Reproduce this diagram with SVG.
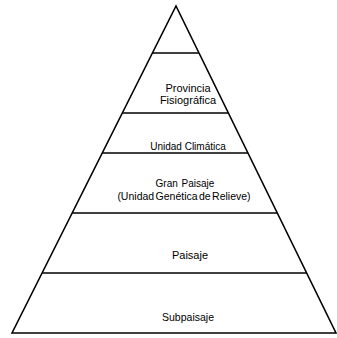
<svg xmlns="http://www.w3.org/2000/svg" width="337" height="338" viewBox="0 0 337 338">
<style>
.ln{stroke:#000;stroke-width:1.6;fill:none;stroke-linejoin:miter}
.t{font-family:"Liberation Sans",Arial,sans-serif;font-size:11px;fill:#000;text-anchor:middle}
</style>
<rect width="337" height="338" fill="#fff"/>
<g id="connectors">
<path class="ln" d="M12,333 L176,6 L336,333 Z"/>
<line class="ln" x1="152.4" y1="53" x2="199" y2="53"/>
<line class="ln" x1="122.3" y1="113" x2="228.4" y2="113"/>
<line class="ln" x1="102.2" y1="153" x2="247.9" y2="153"/>
<line class="ln" x1="72.1" y1="213" x2="277.3" y2="213"/>
<line class="ln" x1="42.1" y1="273" x2="306.6" y2="273"/>
</g>
<g id="provincia"><text class="t" x="188" y="92">Provincia</text><text class="t" x="188" y="104">Fisiográfica</text></g>
<g id="unidad-climatica"><text class="t" x="188" y="150" style="font-size:10px">Unidad Climática</text></g>
<g id="gran-paisaje"><text class="t" x="185" y="187" style="font-size:10px;word-spacing:1px">Gran Paisaje</text><text class="t" x="184" y="200" style="font-size:10.5px;word-spacing:-1.5px">(Unidad Genética de Relieve)</text></g>
<g id="paisaje"><text class="t" x="190" y="259">Paisaje</text></g>
<g id="subpaisaje"><text class="t" x="188" y="321" style="font-size:10.5px">Subpaisaje</text></g>
</svg>
